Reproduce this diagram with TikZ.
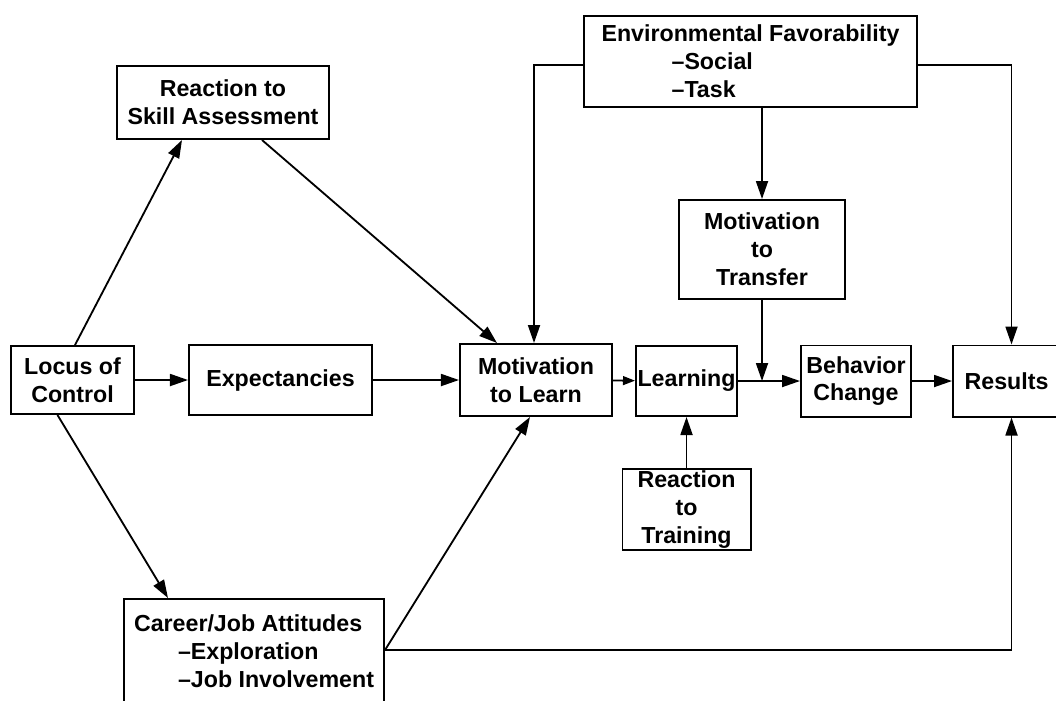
\documentclass[tikz,border=0pt]{standalone}
\usepackage{fontspec}
\setmainfont{Liberation Sans}
\usetikzlibrary{shapes,arrows.meta,positioning,calc}

\begin{document}
\begin{tikzpicture}[x=0.025cm, y=-0.025cm, font=\fontsize{16.5}{19.8}\selectfont\bfseries]

% Define styles
\tikzstyle{factor} = [rectangle, draw=black, line width=1.4pt, inner sep=0pt, align=center]
\tikzstyle{arrow} = [line width=1.3pt, -{Triangle[length=0.45cm,width=0.3cm]}]
\tikzstyle{short_arrow} = [line width=1.3pt, -{Triangle[length=0.3cm,width=0.22cm]}]

\useasboundingbox (0,0) rectangle (1056,700);

% Main row
\node (locus) [factor, minimum width=3.075cm, minimum height=1.7cm] at (72.5,380) {Locus of\\Control};
\node (expect) [factor, minimum width=4.575cm, minimum height=1.75cm] at (280.5,380) {Expectancies};
\node (motlearn) [factor, minimum width=3.8cm, minimum height=1.8cm] at (536,380) {Motivation\\to Learn};
\node (learning) [factor, minimum width=2.525cm, minimum height=1.75cm] at (686.5,381) {Learning};
\node (behavior) [factor, minimum width=2.75cm, minimum height=1.775cm] at (856,381) {Behavior\\Change};
\node (results) [factor, minimum width=2.675cm, minimum height=1.775cm] at (1006.5,381) {Results};

% Upper and lower factors
\node (skill) [factor, minimum width=5.3cm, minimum height=1.825cm] at (223,102.5) {Reaction to\\Skill Assessment};
\node (env) [factor, minimum width=8.325cm, minimum height=2.275cm, align=left] at (750.5,61.5) {Environmental Favorability\\\hspace*{1.75cm}--Social\\\hspace*{1.75cm}--Task};
\node (transfer) [factor, minimum width=4.15cm, minimum height=2.475cm] at (762,249.5) {Motivation\\to\\Transfer};
\node (training) [factor, minimum width=3.2cm, minimum height=2.025cm, below=1.275cm of learning] {Reaction\\to\\Training};
\node (career) [factor, anchor=north west, minimum width=6.5cm, align=left, text height=2.2cm, text depth=1.2cm] at (123,598) {Career/Job Attitudes\\\hspace*{1.1cm}--Exploration\\\hspace*{1.1cm}--Job Involvement};

% Locus of control paths
\draw [arrow] ($(locus.north)+(2.5,0)$) -- ($(skill.south west)+(66,0)$);
\draw [arrow] (locus) -- (expect);
\draw [arrow] ($(locus.south)+(-15,0)$) -- ($(career.north west)+(45,0)$);

% Into motivation to learn
\draw [arrow] ($(skill.south)+(39,0)$) -- ($(motlearn.north)+(-39,0)$);
\draw [arrow] (expect) -- (motlearn);
\draw [arrow] ($(career.north east)+(0,52)$) -- ($(motlearn.south)+(-6,0)$);
\draw [arrow] ($(env.west)+(0,3.5)$) -| ($(motlearn.north)+(-2,0)$);

% Environment
\draw [arrow] (env.south -| transfer.north) -- (transfer.north);
\draw [arrow] ($(env.east)+(0,3.5)$) -| ($(results.north)+(5,0)$);

% Training outcomes
\coordinate (join) at (transfer.south |- learning.east);
\draw [short_arrow] (motlearn) -- (learning);
\draw [arrow] (learning) -- (behavior);
\draw [arrow] (transfer) -- (join);
\draw [arrow] (behavior) -- (results);
\draw [arrow] (training) -- (learning);
\draw [arrow] ($(career.north east)+(0,52)$) -| ($(results.south)+(5,0)$);

\end{tikzpicture}
\end{document}
